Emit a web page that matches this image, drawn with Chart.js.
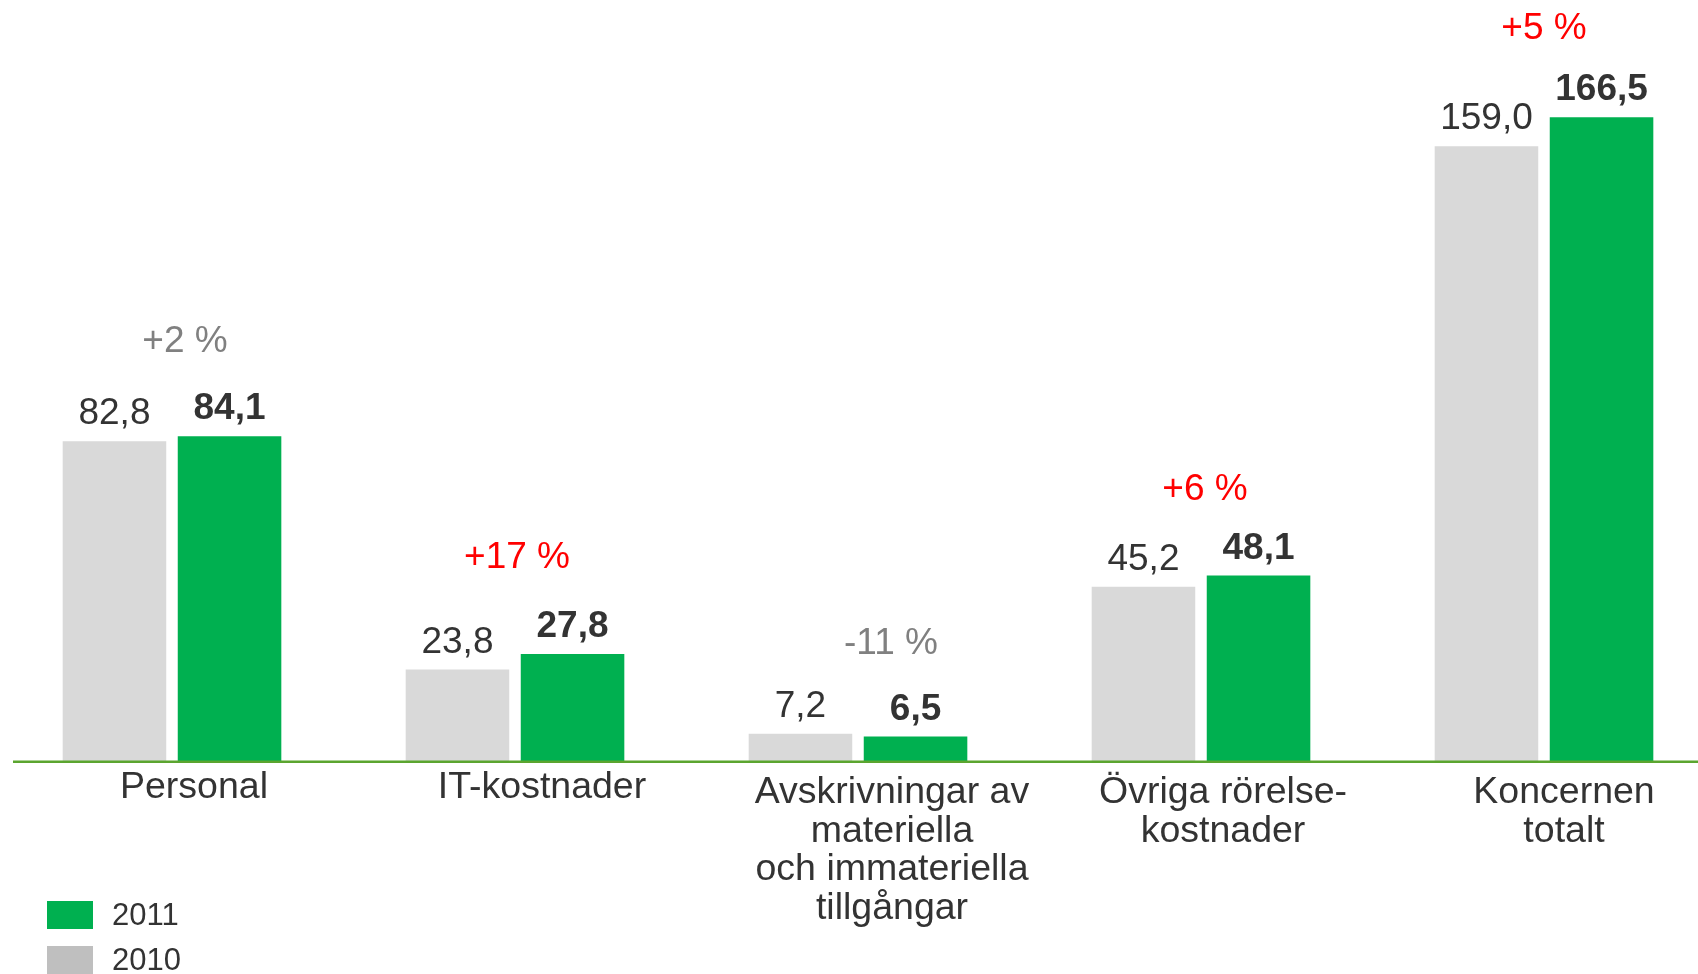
<!DOCTYPE html>
<html lang="sv">
<head>
<meta charset="UTF-8">
<title>Kostnader 2010-2011</title>
<script src="https://cdn.jsdelivr.net/npm/chart.js@4.4.0/dist/chart.umd.min.js"></script>
<style>
body{margin:0;background:#fff;overflow:hidden}
#wrap{width:1698px;height:974px;position:relative}
</style>
</head>
<body>
<div id="wrap"><canvas id="costChart" width="1698" height="974"></canvas></div>
<script>
/* ---------- data ---------- */
const categories = [
  ['Personal'],
  ['IT-kostnader'],
  ['Avskrivningar av', 'materiella', 'och immateriella', 'tillgångar'],
  ['Övriga rörelse-', 'kostnader'],
  ['Koncernen', 'totalt']
];
const values2010 = [82.8, 23.8, 7.2, 45.2, 159.0];
const values2011 = [84.1, 27.8, 6.5, 48.1, 166.5];
const changeLabels = ['+2 %', '+17 %', '-11 %', '+6 %', '+5 %'];
const seriesNames = ['2010', '2011'];

/* ---------- styles / nudges ---------- */
const FONT = '"Liberation Sans", Arial, sans-serif';
const TEXT = '#333333';
const changeColors = ['#808080', '#ff0000', '#808080', '#ff0000', '#ff0000'];
const changeNudge = [[13, -2], [2, -4], [33, 2], [4, 6], [0, 4]];   // px shift of % labels
const catShift = [22, 27, 34, 22, 20];                              // px shift of category labels
const legendColors = {'2010': '#bfbfbf', '2011': '#00b050'};
const fmt = v => v.toFixed(1).replace('.', ',');

/* ---------- custom drawing ---------- */
const overlay = {
  id: 'overlay',
  afterDatasetsDraw(chart){
    const c = chart.ctx, x = chart.scales.x, y = chart.scales.y;
    const m0 = chart.getDatasetMeta(0), m1 = chart.getDatasetMeta(1);
    c.save();

    // baseline
    const y0 = y.getPixelForValue(0);
    c.strokeStyle = '#5ba52f'; c.lineWidth = 2.5;
    c.beginPath(); c.moveTo(13, y0); c.lineTo(chart.width, y0); c.stroke();

    // value labels on bars
    c.textAlign = 'center'; c.textBaseline = 'alphabetic'; c.fillStyle = TEXT;
    [m0, m1].forEach((meta, di) => {
      c.font = (di === 1 ? 'bold ' : '') + '37px ' + FONT;
      meta.data.forEach((bar, i) => {
        c.fillText(fmt(chart.data.datasets[di].data[i]), bar.x, bar.y - 17);
      });
    });

    // change labels
    c.font = '37px ' + FONT;
    changeLabels.forEach((t, i) => {
      const top = Math.min(m0.data[i].y, m1.data[i].y);
      c.fillStyle = changeColors[i];
      c.fillText(t, x.getPixelForValue(i) + changeNudge[i][0], top - 82 + changeNudge[i][1]);
    });

    // category labels
    c.font = '37.5px ' + FONT; c.fillStyle = TEXT;
    categories.forEach((lines, i) => {
      const cx = x.getPixelForValue(i) + catShift[i];
      const first = lines.length === 1 ? 798 : 803;
      lines.forEach((ln, k) => c.fillText(ln, cx, first + k * 38.7));
    });

    // legend (2011 above 2010)
    c.font = '31px ' + FONT; c.textAlign = 'left'; c.textBaseline = 'middle';
    seriesNames.slice().reverse().forEach((name, k) => {
      const ty = 901 + k * 45;
      c.fillStyle = legendColors[name];
      c.fillRect(47, ty, 46, 28);
      c.fillStyle = TEXT;
      c.fillText(name, 112, ty + 15);
    });
    c.restore();
  }
};

new Chart(document.getElementById('costChart'), {
  type: 'bar',
  data: {
    labels: categories,
    datasets: [
      {label: seriesNames[0], data: values2010, backgroundColor: '#d9d9d9', clip: false},
      {label: seriesNames[1], data: values2011, backgroundColor: '#00b050', clip: false}
    ]
  },
  options: {
    responsive: false,
    animation: false,
    devicePixelRatio: 1,
    categoryPercentage: 0.671,
    barPercentage: 0.9,
    layout: {padding: {left: 172, right: 154, top: 26.4, bottom: 212.3}},
    plugins: {legend: {display: false}, tooltip: {enabled: false}},
    scales: {
      x: {display: false, offset: false},
      y: {display: false, min: 0, max: 190}
    }
  },
  plugins: [overlay]
});
</script>
</body>
</html>
